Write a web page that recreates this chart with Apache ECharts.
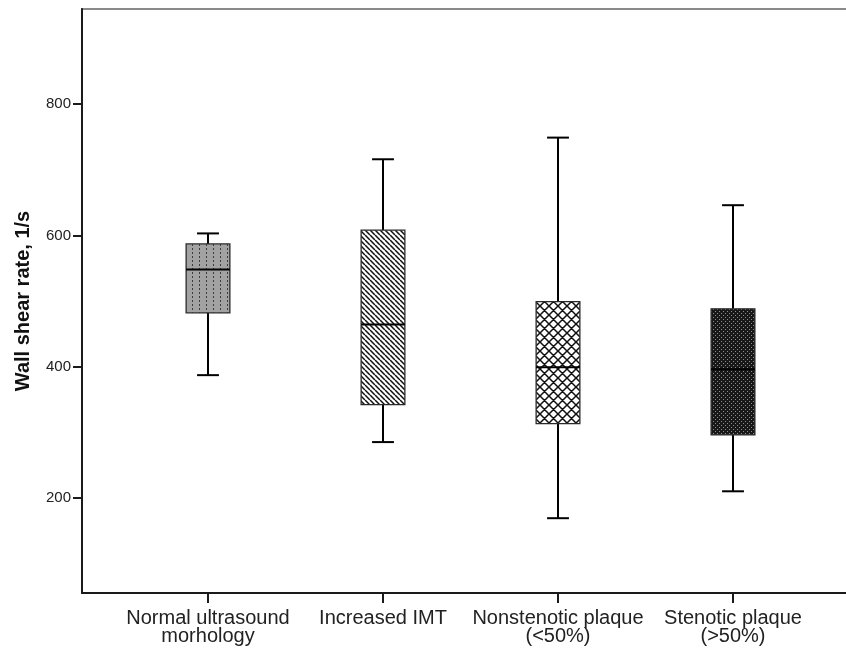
<!DOCTYPE html>
<html><head><meta charset="utf-8">
<script src="https://cdn.jsdelivr.net/npm/echarts@6/dist/echarts.min.js"></script>
<style>html,body{margin:0;padding:0;background:#fff}#c{width:846px;height:652px}</style>
</head><body><div id="c"></div>
<script>
const categories = ['Normal ultrasound\nmorhology', 'Increased IMT', 'Nonstenotic plaque\n(<50%)', 'Stenotic plaque\n(>50%)'];
const whiskerLow = [387, 285, 169, 210];
const quartile1 = [482, 342, 313, 296];
const medians = [548, 464, 399, 396];
const quartile3 = [587, 608, 499, 488];
const whiskerHigh = [603, 716, 749, 646];
const yTicks = [200, 400, 600, 800];

const BOX_WIDTH = 0.25;
const FONT = '"Liberation Sans", Arial, sans-serif';

function makePattern(w, h, draw) {
  const c = document.createElement('canvas');
  c.width = w; c.height = h;
  const g = c.getContext('2d');
  draw(g, w, h);
  return { image: c, repeat: 'repeat' };
}
const patterns = [
  makePattern(7, 4, (g, w, h) => {
    g.fillStyle = '#a2a2a2'; g.fillRect(0, 0, w, h);
    g.fillStyle = '#3c3c3c'; g.fillRect(3, 0, 1, 2);
  }),
  makePattern(5, 5, (g, w, h) => {
    g.fillStyle = '#fff'; g.fillRect(0, 0, w, h);
    g.strokeStyle = '#111'; g.lineWidth = 1.5;
    g.beginPath();
    for (let k = -1; k <= 1; k++) { g.moveTo(k * w, 0); g.lineTo(k * w + w, h); }
    g.stroke();
  }),
  makePattern(9, 9, (g, w, h) => {
    g.fillStyle = '#fff'; g.fillRect(0, 0, w, h);
    g.strokeStyle = '#111'; g.lineWidth = 1.5;
    g.beginPath();
    for (let k = -1; k <= 1; k++) {
      g.moveTo(k * w, 0); g.lineTo(k * w + w, h);
      g.moveTo(k * w, h); g.lineTo(k * w + w, 0);
    }
    g.stroke();
  }),
  makePattern(4, 4, (g, w, h) => {
    g.fillStyle = '#181818'; g.fillRect(0, 0, w, h);
    g.fillStyle = '#8e8e8e'; g.fillRect(1, 1, 1, 1); g.fillRect(3, 3, 1, 1);
  })
];

const boxData = categories.map((c, i) => [i, whiskerLow[i], quartile1[i], medians[i], quartile3[i], whiskerHigh[i]]);

const chart = echarts.init(document.getElementById('c'), null, { renderer: 'canvas' });
chart.setOption({
  animation: false,
  backgroundColor: '#fff',
  grid: {
    left: 82, top: 9, right: -13, bottom: 59,
    show: true, borderColor: '#8a8a8a', borderWidth: 2,
    containLabel: false, outerBoundsMode: 'none'
  },
  xAxis: {
    type: 'value', min: -0.72, max: 3.72,
    axisLine: { show: true, onZero: false, lineStyle: { color: '#1a1a1a', width: 2 } },
    axisTick: { show: true, customValues: [0, 1, 2, 3], length: 10, lineStyle: { color: '#1a1a1a', width: 2 } },
    axisLabel: {
      customValues: [0, 1, 2, 3],
      formatter: v => categories[Math.round(v)],
      color: '#222', fontFamily: FONT, fontSize: 20, lineHeight: 18, margin: 16
    },
    splitLine: { show: false }
  },
  yAxis: {
    type: 'value', min: 55, max: 945,
    name: 'Wall shear rate, 1/s', nameLocation: 'middle', nameRotate: 90, nameGap: 49,
    nameTextStyle: { fontFamily: FONT, fontSize: 20, fontWeight: 'bold', color: '#111' },
    axisLine: { show: true, onZero: false, lineStyle: { color: '#1a1a1a', width: 2 } },
    axisTick: { show: true, customValues: yTicks, length: 9, lineStyle: { color: '#1a1a1a', width: 2 } },
    axisLabel: { customValues: yTicks, color: '#222', fontFamily: FONT, fontSize: 15, margin: 11 },
    splitLine: { show: false }
  },
  series: [{
    type: 'custom',
    data: boxData,
    encode: { x: 0, y: [1, 2, 3, 4, 5] },
    renderItem: function (params, api) {
      const x = api.value(0);
      const lo = api.coord([x, api.value(1)]);
      const q1 = api.coord([x, api.value(2)]);
      const md = api.coord([x, api.value(3)]);
      const q3 = api.coord([x, api.value(4)]);
      const hi = api.coord([x, api.value(5)]);
      const bw = api.size([BOX_WIDTH, 0])[0];
      const cw = bw / 2;
      const cx = lo[0];
      const ls = { stroke: '#000', lineWidth: 2 };
      return {
        type: 'group',
        children: [
          { type: 'line', shape: { x1: cx, y1: hi[1], x2: cx, y2: q3[1] }, style: ls },
          { type: 'line', shape: { x1: cx, y1: q1[1], x2: cx, y2: lo[1] }, style: ls },
          { type: 'line', shape: { x1: cx - cw / 2, y1: hi[1], x2: cx + cw / 2, y2: hi[1] }, style: ls },
          { type: 'line', shape: { x1: cx - cw / 2, y1: lo[1], x2: cx + cw / 2, y2: lo[1] }, style: ls },
          { type: 'rect', shape: { x: cx - bw / 2, y: q3[1], width: bw, height: q1[1] - q3[1] },
            style: { fill: patterns[params.dataIndex], stroke: '#2a2a2a', lineWidth: 1.3 } },
          { type: 'line', shape: { x1: cx - bw / 2, y1: md[1], x2: cx + bw / 2, y2: md[1] }, style: ls }
        ]
      };
    }
  }]
});
</script>
</body></html>
